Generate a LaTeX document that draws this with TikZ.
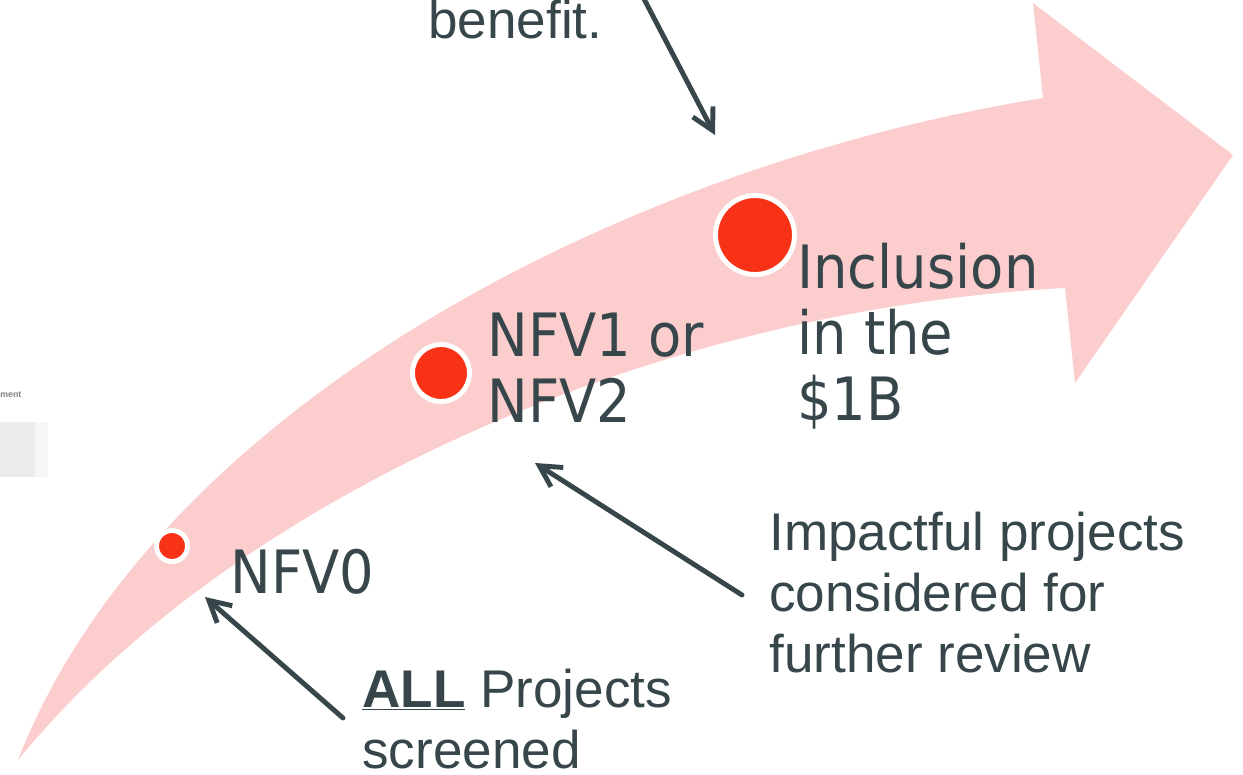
\documentclass[tikz,border=0pt]{standalone}
\usepackage{fontspec}
\setmainfont{Liberation Sans}
\newfontfamily\tahfont[FakeStretch=0.91]{DejaVu Sans}
\usetikzlibrary{arrows.meta}
\definecolor{slate}{RGB}{54,70,74}
\definecolor{band}{RGB}{252,205,205}
\definecolor{dotred}{RGB}{248,50,22}
\definecolor{fragA}{RGB}{236,236,236}
\definecolor{fragB}{RGB}{246,246,246}
\begin{document}
\begin{tikzpicture}[x=0.02cm,y=-0.02cm,
  stage/.style={font=\tahfont\fontsize{34}{37.4}\selectfont, text=slate, align=left, anchor=base west, inner sep=0pt},
  note/.style={font=\fontsize{30.2}{34.6}\selectfont, text=slate, align=left, anchor=base west, inner sep=0pt},
  pointer/.style={draw=slate, line width=2.8pt, line cap=round, line join=round, -{Straight Barb[length=12pt,width=13pt]}},
  dot/.style={circle, fill=dotred, draw=white, line width=2.8pt, inner sep=0pt}]
\useasboundingbox (0,0) rectangle (1243,774);
% faint screenshot fragment at the left edge
\fill[fragA] (0,422) rectangle (35,477);
\fill[fragB] (35,422) rectangle (48,477);
\node[font=\bfseries\fontsize{5}{6}\selectfont, text=gray, anchor=west, inner sep=0pt] (frag) at (0,395) {ment};
% curved band arrow
\fill[band] (18,760) .. controls (230,500) and (650,310) .. (1065,288) -- (1075,383) -- (1233,155) -- (1033,3) -- (1043,98) .. controls (600,170) and (150,420) .. (18,760) -- cycle;
% dots
\node[dot, minimum size=0.62cm] (d0) at (172,546) {};
\node[dot, minimum size=1.14cm] (d1) at (441,373) {};
\node[dot, minimum size=1.58cm] (d2) at (755,235) {};
% stage labels (anchor = baseline of last line)
\node[stage] (t0) at (230,593) {NFV0};
\node[stage] (t1) at (487,422) {NFV1 or\\NFV2};
\node[stage] (t2) at (797,420) {Inclusion\\in the\\\$1B};
% notes
\node[note] (n0) at (428,38) {benefit.};
\node[note] (n1) at (769,672) {Impactful projects\\considered for\\further review};
\node[note] (n2) at (362,768) {\underline{\textbf{ALL}} Projects\\screened};
% pointers
\coordinate (a0s) at (643,-3);
\coordinate (a0e) at (715,135);
\coordinate (a1s) at (742,595);
\coordinate (a1e) at (535,463);
\coordinate (a2s) at (343,718);
\coordinate (a2e) at (205,597);
\draw[pointer] (a0s) -- (a0e);
\draw[pointer] (a1s) -- (a1e);
\draw[pointer] (a2s) -- (a2e);
\end{tikzpicture}
\end{document}
